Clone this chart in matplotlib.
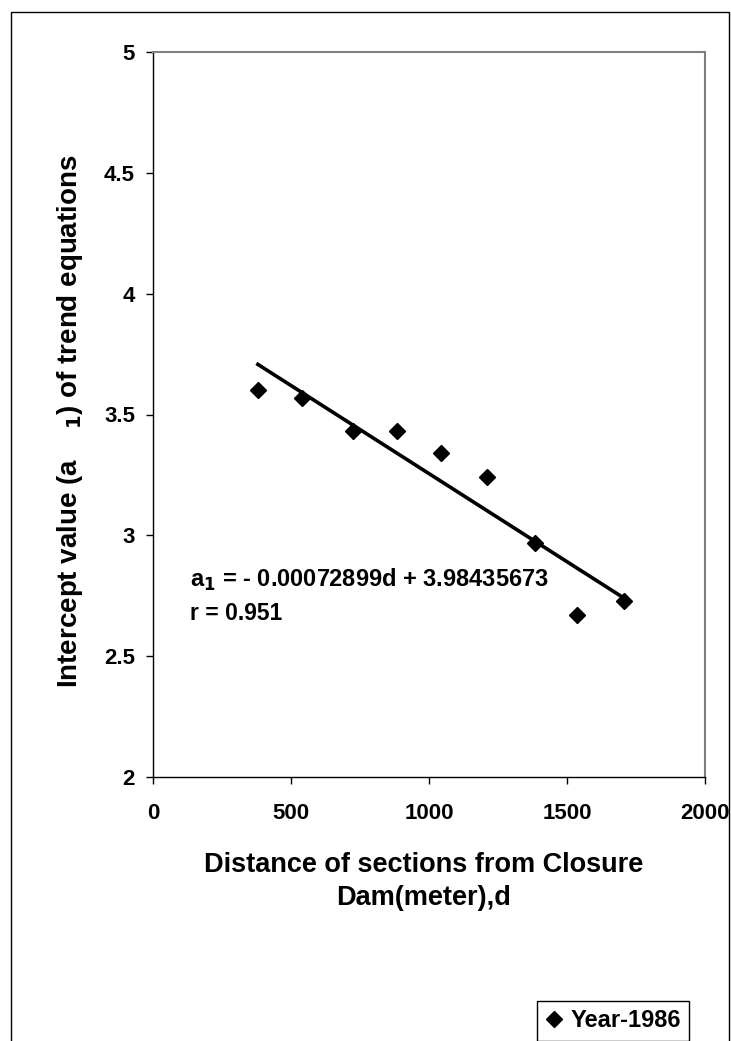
#!/usr/bin/env python3

import matplotlib
matplotlib.use("Agg")
import matplotlib.pyplot as plt
from matplotlib.lines import Line2D
from matplotlib.patches import Rectangle
import numpy as np


# distance of section from closure dam (m) and intercept a1, year 1986
distance = [380, 540, 725, 885, 1045, 1210, 1385, 1535, 1705]
intercept = [3.60, 3.57, 3.43, 3.43, 3.34, 3.24, 2.97, 2.67, 2.73]

# trend equation given on the chart
slope = -0.00072899
offset = 3.98435673
r_value = 0.951

x_ticks = [0, 500, 1000, 1500, 2000]
y_ticks = [2, 2.5, 3, 3.5, 4, 4.5, 5]
y_tick_labels = ["2", "2.5", "3", "3.5", "4", "4.5", "5"]


def main() -> None:
    plt.rcParams["font.family"] = ["Liberation Sans", "DejaVu Sans"]
    plt.rcParams["font.weight"] = "bold"
    plt.rcParams["mathtext.default"] = "bf"

    fig = plt.figure(figsize=(7.31, 10.41), dpi=100)
    ax = fig.add_axes([153 / 731, 1 - 777 / 1041, 552 / 731, 725 / 1041])

    # outer chart border
    fig.patches.append(Rectangle((11 / 731, -0.05), 718 / 731, 1.05 - 12 / 1041,
                                 transform=fig.transFigure, fill=False,
                                 edgecolor="black", linewidth=1.0))

    ax.plot(distance, intercept, linestyle="none", marker="D", markersize=8,
            color="black", label="Year-1986")

    d = np.array([distance[0], distance[-1]])
    ax.plot(d, slope * d + offset, color="black", linewidth=2.6)

    ax.set_xlim(0, 2000)
    ax.set_ylim(2, 5)
    ax.set_xticks(x_ticks)
    ax.set_yticks(y_ticks)
    ax.set_yticklabels(y_tick_labels)
    ax.tick_params(direction="out", length=5, width=1, labelsize=16)
    ax.tick_params(axis="x", pad=13.5)
    ax.tick_params(axis="y", pad=8)

    for side in ("top", "right"):
        ax.spines[side].set_color("#808080")
        ax.spines[side].set_linewidth(1.5)
    for side in ("left", "bottom"):
        ax.spines[side].set_color("black")
        ax.spines[side].set_linewidth(1.0)

    ax.set_xlabel("Distance of sections from Closure\nDam(meter),d",
                  fontsize=19.5, fontweight="bold", linespacing=1.35)
    ax.xaxis.label.set_va("center")
    ax.xaxis.set_label_coords(0.49, -0.1437)

    ax.set_ylabel("Intercept value (a    $_1$) of trend equations",
                  fontsize=20, fontweight="bold")
    ax.yaxis.label.set_va("center")
    ax.yaxis.set_label_coords(-0.150, 0.49)

    ax.text(0.067, 0.272, "a$_1$ = - 0.00072899d + 3.98435673",
            transform=ax.transAxes, fontsize=17, fontweight="bold",
            va="center")
    ax.text(0.067, 0.2256, f"r = {r_value}",
            transform=ax.transAxes, fontsize=16.5, fontweight="bold",
            va="center")

    handle = Line2D([], [], linestyle="none", marker="D", markersize=8,
                    color="black")
    fig.legend([handle], ["Year-1986"], loc="upper left",
               bbox_to_anchor=(537 / 731, 1 - 1001 / 1041),
               fontsize=17, frameon=True, fancybox=False, edgecolor="black",
               handlelength=0.7, handletextpad=0.35, borderpad=0.35,
               borderaxespad=0, framealpha=1)

    fig.savefig("out.png", dpi=100)


if __name__ == "__main__":
    main()
